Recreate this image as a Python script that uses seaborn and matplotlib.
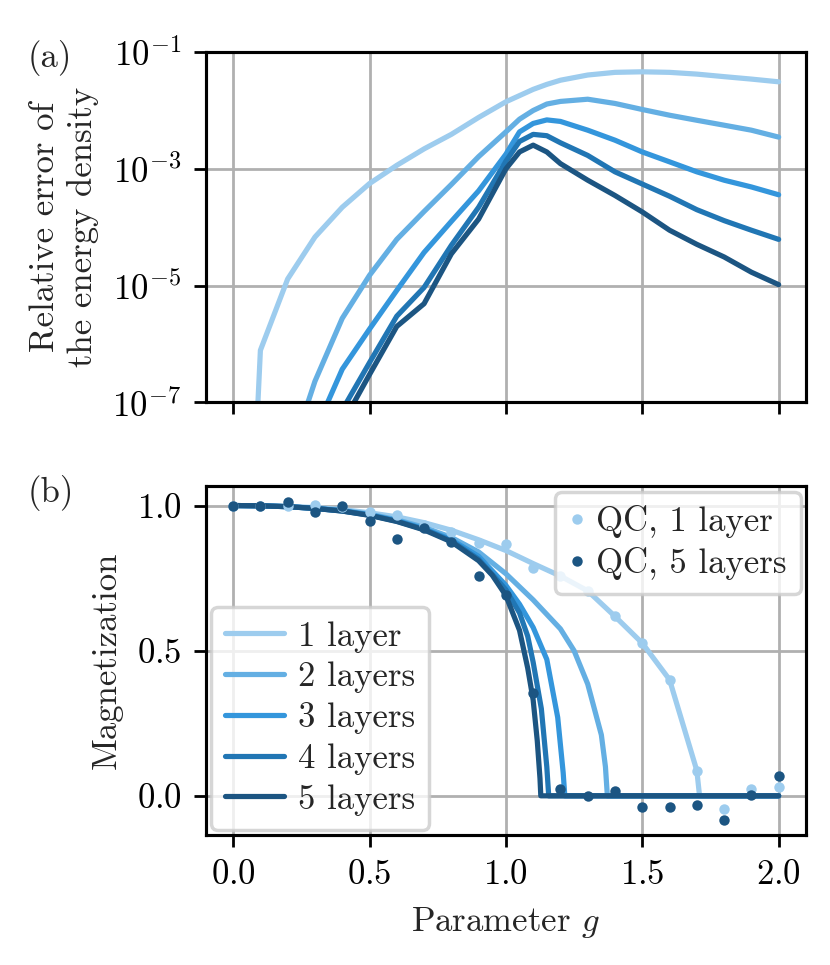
import numpy as np
import pandas as pd
import matplotlib
matplotlib.use("Agg")
import matplotlib.pyplot as plt
from matplotlib.lines import Line2D
import seaborn as sns

# ============================================
# data
# ============================================
layer_names = ["1 layer", "2 layers", "3 layers", "4 layers", "5 layers"]
layer_colors = ["#9dccee", "#64afe3", "#3496dc", "#2176b4", "#1c5582"]

# (a) relative error of the energy density
g_err = [0.0, 0.1, 0.2, 0.3, 0.4, 0.5, 0.6, 0.7, 0.8, 0.9, 1.0, 1.05, 1.1, 1.15,
         1.2, 1.3, 1.4, 1.5, 1.6, 1.7, 1.8, 1.9, 2.0]
err_1 = [1e-16, 7.8e-7, 1.3e-5, 6.8e-5, 2.2e-4, 5.6e-4, 1.15e-3, 2.2e-3, 3.9e-3, 7.6e-3,
         1.41e-2, 1.8e-2, 2.3e-2, 2.8e-2, 3.3e-2, 4.05e-2, 4.5e-2, 4.6e-2, 4.5e-2,
         4.2e-2, 3.8e-2, 3.45e-2, 3.1e-2]
err_2 = [1e-16, 1e-12, 9e-9, 2.3e-7, 2.75e-6, 1.5e-5, 6.2e-5, 1.86e-4, 5.4e-4, 1.62e-3,
         4.3e-3, 7.1e-3, 1.0e-2, 1.29e-2, 1.43e-2, 1.56e-2, 1.32e-2, 1.04e-2, 8.3e-3,
         6.8e-3, 5.6e-3, 4.6e-3, 3.5e-3]
err_3 = [1e-16, 1e-14, 1e-10, 3.2e-8, 3.7e-7, 1.8e-6, 8.3e-6, 3.7e-5, 1.26e-4, 4.2e-4,
         1.78e-3, 4.3e-3, 6.0e-3, 6.9e-3, 6.5e-3, 4.6e-3, 3.1e-3, 1.95e-3, 1.32e-3,
         8.9e-4, 6.4e-4, 4.9e-4, 3.6e-4]
err_4 = [1e-16, 1e-14, 1e-12, 1e-9, 7.4e-8, 4.8e-7, 3.0e-6, 9.3e-6, 4.9e-5, 2.2e-4,
         1.35e-3, 2.95e-3, 3.9e-3, 3.7e-3, 2.8e-3, 1.7e-3, 8.9e-4, 5.5e-4, 3.4e-4,
         2.0e-4, 1.3e-4, 8.9e-5, 6.2e-5]
err_5 = [1e-16, 1e-14, 1e-12, 1e-10, 4.3e-8, 3.0e-7, 2.0e-6, 4.9e-6, 3.5e-5, 1.38e-4,
         1.0e-3, 1.95e-3, 2.55e-3, 1.95e-3, 1.23e-3, 6.4e-4, 3.5e-4, 1.83e-4, 8.9e-5,
         5.1e-5, 3.1e-5, 1.7e-5, 1.04e-5]

# (b) magnetization, exact simulation of the ansatz
g_m1 = [0.0, 0.1, 0.2, 0.3, 0.4, 0.5, 0.6, 0.7, 0.8, 0.9, 1.0, 1.1, 1.2, 1.3, 1.4,
        1.5, 1.6, 1.7, 1.71, 1.8, 1.9, 2.0]
mag_1 = [1.0, 0.999, 0.997, 0.993, 0.986, 0.975, 0.961, 0.941, 0.915, 0.882, 0.845,
         0.80, 0.757, 0.706, 0.618, 0.526, 0.40, 0.087, 0.0, 0.0, 0.0, 0.0]
g_m2 = [0.0, 0.1, 0.2, 0.3, 0.4, 0.5, 0.6, 0.7, 0.8, 0.9, 1.0, 1.1, 1.2, 1.25, 1.3,
        1.35, 1.365, 1.372, 2.0]
mag_2 = [1.0, 0.999, 0.996, 0.991, 0.983, 0.970, 0.951, 0.925, 0.890, 0.840, 0.765,
         0.675, 0.575, 0.50, 0.385, 0.21, 0.10, 0.0, 0.0]
g_m3 = [0.0, 0.1, 0.2, 0.3, 0.4, 0.5, 0.6, 0.7, 0.8, 0.9, 1.0, 1.05, 1.1, 1.15,
        1.19, 1.21, 1.216, 2.0]
mag_3 = [1.0, 0.999, 0.996, 0.990, 0.982, 0.968, 0.948, 0.920, 0.882, 0.825, 0.725,
         0.66, 0.58, 0.47, 0.27, 0.08, 0.0, 0.0]
g_m4 = [0.0, 0.1, 0.2, 0.3, 0.4, 0.5, 0.6, 0.7, 0.8, 0.9, 1.0, 1.05, 1.08, 1.1,
        1.13, 1.15, 1.157, 2.0]
mag_4 = [1.0, 0.999, 0.996, 0.990, 0.981, 0.967, 0.946, 0.918, 0.878, 0.815, 0.71,
         0.63, 0.55, 0.46, 0.30, 0.10, 0.0, 0.0]
g_m5 = [0.0, 0.1, 0.2, 0.3, 0.4, 0.5, 0.6, 0.7, 0.8, 0.9, 0.95, 1.0, 1.05, 1.08,
        1.1, 1.115, 1.125, 1.128, 2.0]
mag_5 = [1.0, 0.999, 0.996, 0.990, 0.981, 0.966, 0.945, 0.916, 0.875, 0.81, 0.76,
         0.69, 0.57, 0.44, 0.33, 0.19, 0.06, 0.0, 0.0]

# (b) quantum computer runs
g_qc = [0.0, 0.1, 0.2, 0.3, 0.4, 0.5, 0.6, 0.7, 0.8, 0.9, 1.0, 1.1, 1.2, 1.3, 1.4,
        1.5, 1.6, 1.7, 1.8, 1.9, 2.0]
qc_1 = [1.0, 1.0, 0.998, 1.001, 0.995, 0.978, 0.969, 0.934, 0.909, 0.871, 0.866,
        0.785, 0.756, 0.707, 0.621, 0.526, 0.40, 0.087, -0.046, 0.023, 0.030]
qc_5 = [1.0, 1.0, 1.011, 0.978, 0.998, 0.945, 0.885, 0.924, 0.874, 0.756, 0.693,
        0.354, 0.023, 0.0, 0.015, -0.039, -0.037, -0.031, -0.083, 0.003, 0.067]
qc_names = ["QC, 1 layer", "QC, 5 layers"]

err_series = [err_1, err_2, err_3, err_4, err_5]
mag_series = [(g_m1, mag_1), (g_m2, mag_2), (g_m3, mag_3), (g_m4, mag_4), (g_m5, mag_5)]

# ============================================
# style
# ============================================
sns.set_style("ticks")
plt.rcParams['font.family'] = ['cmr10', 'DejaVu Serif']
plt.rcParams['mathtext.fontset'] = 'cm'
plt.rcParams['axes.unicode_minus'] = False
plt.rcParams['axes.formatter.use_mathtext'] = True
plt.rcParams['font.size'] = 10
plt.rcParams['axes.labelsize'] = 10
plt.rcParams['xtick.labelsize'] = 10
plt.rcParams['ytick.labelsize'] = 10
plt.rcParams['legend.fontsize'] = 10
plt.rcParams['axes.edgecolor'] = 'black'
plt.rcParams['axes.linewidth'] = 0.9
plt.rcParams['xtick.color'] = 'black'
plt.rcParams['ytick.color'] = 'black'

fig = plt.figure(figsize=(3.32, 3.86), dpi=250)
ax_a = fig.add_axes([0.248, 0.583, 0.723, 0.363])
ax_b = fig.add_axes([0.248, 0.135, 0.723, 0.361], sharex=ax_a)

# ============================================
# (a) energy error
# ============================================
ax_a.set_yscale('log')
for name, col, err in zip(layer_names, layer_colors, err_series):
    sns.lineplot(x=g_err, y=err, ax=ax_a, color=col, lw=1.5, label=name, legend=False)
ax_a.set_ylim(1e-7, 1e-1)
ax_a.set_yticks([1e-1, 1e-3, 1e-5, 1e-7])
ax_a.minorticks_off()
ax_a.set_ylabel('Relative error of\nthe energy density')
ax_a.tick_params(labelbottom=False)
ax_a.grid(True, color='#b0b0b0', lw=0.8)

# ============================================
# (b) magnetization
# ============================================
for name, col, (gx, m) in zip(layer_names, layer_colors, mag_series):
    sns.lineplot(x=gx, y=m, ax=ax_b, color=col, lw=1.5, label=name, legend=False)
sns.scatterplot(x=g_qc, y=qc_1, ax=ax_b, color=layer_colors[0], s=9, linewidth=0,
                legend=False, zorder=3)
sns.scatterplot(x=g_qc, y=qc_5, ax=ax_b, color=layer_colors[4], s=9, linewidth=0,
                legend=False, zorder=3)

ax_b.set_xlim(-0.1, 2.1)
ax_b.set_ylim(-0.134, 1.066)
ax_b.set_xticks([0.0, 0.5, 1.0, 1.5, 2.0])
ax_b.set_yticks([0.0, 0.5, 1.0])
ax_b.set_xlabel('Parameter $g$')
ax_b.set_ylabel('Magnetization')
ax_b.grid(True, color='#b0b0b0', lw=0.8)

line_handles = ax_b.lines[:5]
leg1 = ax_b.legend(handles=line_handles, labels=layer_names, loc='lower left',
                   handlelength=1.7, handletextpad=0.4, labelspacing=0.26,
                   borderaxespad=0.15, framealpha=0.8, edgecolor='0.8', fancybox=True)
ax_b.add_artist(leg1)
qc_handles = [Line2D([], [], ls='none', marker='o', ms=3, mew=0, color=layer_colors[0]),
              Line2D([], [], ls='none', marker='o', ms=3, mew=0, color=layer_colors[4])]
ax_b.legend(handles=qc_handles, labels=qc_names, loc='upper right',
            handlelength=0.5, handletextpad=0.3, labelspacing=0.26,
            borderaxespad=0.15, framealpha=0.8, edgecolor='0.8', fancybox=True)

fig.text(0.033, 0.959, '(a)', va='top', ha='left', fontsize=10)
fig.text(0.033, 0.508, '(b)', va='top', ha='left', fontsize=10)

fig.savefig('out.png', dpi=250)
plt.close(fig)
